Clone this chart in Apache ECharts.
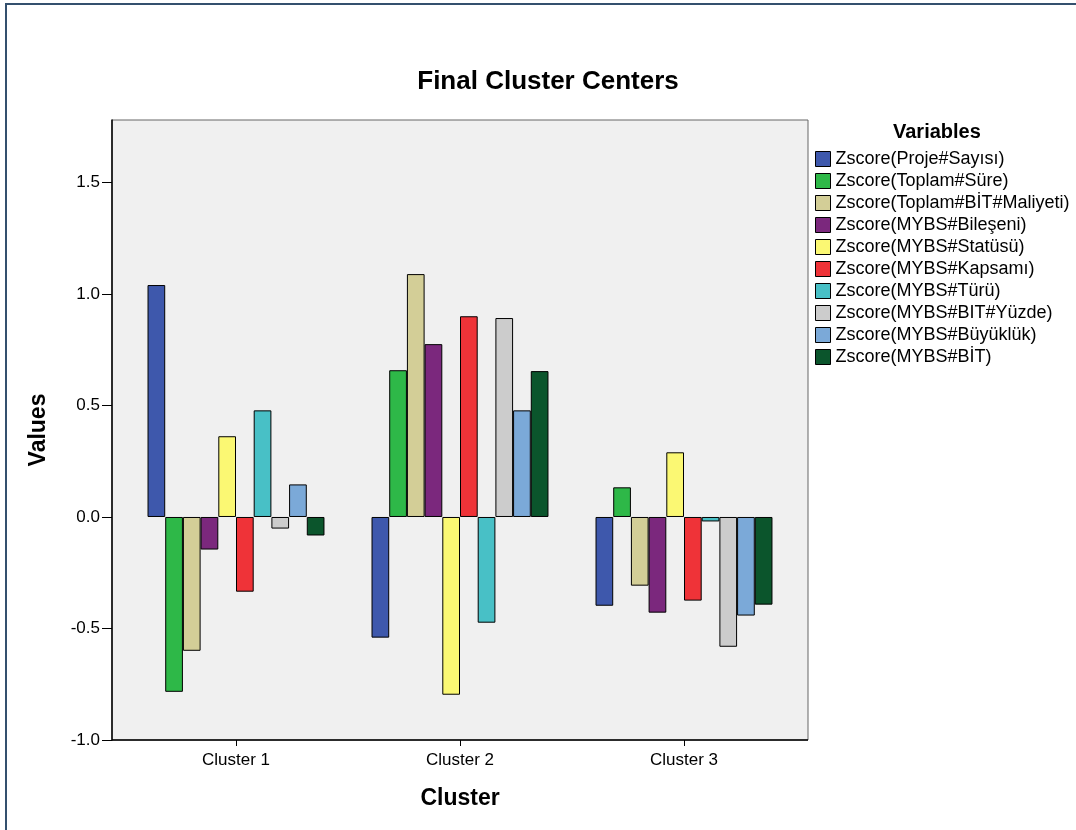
<!DOCTYPE html>
<html>
<head>
<meta charset="utf-8">
<script src="https://cdn.jsdelivr.net/npm/echarts@6/dist/echarts.min.js"></script>
<style>
html,body{margin:0;padding:0;background:#fff;}
#frame{position:absolute;left:5px;top:3px;width:1100px;height:900px;border-top:2px solid #34506e;border-left:2px solid #34506e;}
#chart{position:absolute;left:0;top:0;width:1076px;height:830px;}
</style>
</head>
<body>
<div id="frame"></div>
<div id="chart"></div>
<script>
const categories = ['Cluster 1', 'Cluster 2', 'Cluster 3'];
const variableNames = [
  'Zscore(Proje#Sayısı)',
  'Zscore(Toplam#Süre)',
  'Zscore(Toplam#BİT#Maliyeti)',
  'Zscore(MYBS#Bileşeni)',
  'Zscore(MYBS#Statüsü)',
  'Zscore(MYBS#Kapsamı)',
  'Zscore(MYBS#Türü)',
  'Zscore(MYBS#BIT#Yüzde)',
  'Zscore(MYBS#Büyüklük)',
  'Zscore(MYBS#BİT)'
];
const projeSayisi   = [1.04, -0.541, -0.398];
const toplamSure    = [-0.784, 0.658, 0.133];
const toplamMaliyet = [-0.60, 1.089, -0.308];
const bileseni      = [-0.146, 0.775, -0.429];
const statusu       = [0.362, -0.797, 0.29];
const kapsami       = [-0.335, 0.90, -0.375];
const turu          = [0.478, -0.474, -0.02];
const bitYuzde      = [-0.052, 0.892, -0.582];
const buyukluk      = [0.146, 0.478, -0.442];
const mybsBit       = [-0.083, 0.654, -0.393];
const seriesValues = [projeSayisi, toplamSure, toplamMaliyet, bileseni, statusu, kapsami, turu, bitYuzde, buyukluk, mybsBit];
const colors = ['#3E58AC', '#2EB848', '#D3CE97', '#7B287D', '#FBF873', '#EF3338', '#48C0C6', '#CCCCCC', '#7BA9D8', '#0B552C'];

const chart = echarts.init(document.getElementById('chart'), null, {renderer: 'canvas'});
const font = 'Liberation Sans, Arial, sans-serif';
chart.setOption({
  animation: false,
  textStyle: {fontFamily: font},
  title: {
    text: 'Final Cluster Centers',
    left: 543, top: 64, textAlign: 'center',
    textStyle: {fontSize: 26, fontWeight: 'bold', color: '#000', fontFamily: font}
  },
  legend: {
    orient: 'vertical',
    left: 810, top: 145,
    itemWidth: 15, itemHeight: 15,
    itemGap: 4,
    icon: 'rect',
    data: variableNames,
    textStyle: {fontSize: 18, lineHeight: 18, color: '#000', fontFamily: font},
    itemStyle: {borderColor: '#000', borderWidth: 1}
  },
  graphic: [
    {
      type: 'rect', z: -10, silent: true,
      shape: {x: 112, y: 120, width: 696, height: 620},
      style: {fill: '#F0F0F0', stroke: '#666', lineWidth: 1}
    },
    {
      type: 'line', z: 10, silent: true,
      shape: {x1: 112, y1: 740, x2: 808, y2: 740},
      style: {stroke: '#000', lineWidth: 1.5}
    },
    {
      type: 'text', left: 893, top: 122,
      style: {text: 'Variables', font: 'bold 20px ' + font, fill: '#000'}
    }
  ],
  grid: {
    left: 124, top: 120, width: 672, height: 620,
    show: false
  },
  xAxis: {
    type: 'category',
    data: categories,
    name: 'Cluster', nameLocation: 'middle', nameGap: 47,
    nameTextStyle: {fontSize: 23, fontWeight: 'bold', color: '#000', fontFamily: font},
    axisLine: {show: false, onZero: false},
    axisTick: {show: true, alignWithLabel: true, length: 6, lineStyle: {color: '#000'}},
    axisLabel: {fontSize: 17, color: '#000', margin: 12, fontFamily: font},
    splitLine: {show: false}
  },
  yAxis: {
    type: 'value',
    offset: 12,
    min: -1.0, max: 1.78, interval: 0.5,
    name: 'Values', nameLocation: 'middle', nameGap: 62, nameRotate: 90,
    nameTextStyle: {fontSize: 23, fontWeight: 'bold', color: '#000', fontFamily: font},
    axisLine: {show: true, lineStyle: {color: '#000', width: 1.5}},
    axisTick: {show: true, length: 10, lineStyle: {color: '#000'}},
    axisLabel: {
      fontSize: 17, color: '#000', margin: 12, fontFamily: font, showMaxLabel: false,
      formatter: function (v) { return Math.abs(v * 2 - Math.round(v * 2)) < 1e-6 ? v.toFixed(1) : ''; }
    },
    splitLine: {show: false}
  },
  series: variableNames.map(function (name, i) {
    return {
      name: name,
      type: 'bar',
      data: seriesValues[i],
      barGap: '0%',
      barCategoryGap: '21%',
      itemStyle: {color: colors[i], borderColor: '#000', borderWidth: 1}
    };
  })
});
</script>
</body>
</html>
